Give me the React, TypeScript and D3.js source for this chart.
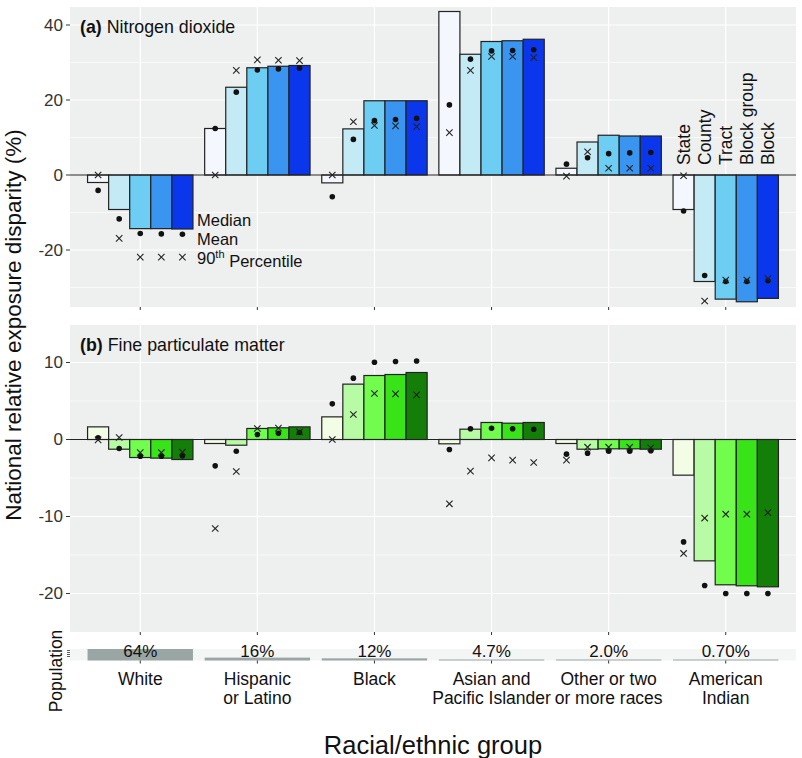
import React from "react";
import * as d3 from "d3";

const categories = ["White", "Hispanic or Latino", "Black", "Asian and Pacific Islander", "Other or two or more races", "American Indian"];
const categoryLines = [["White"], ["Hispanic", "or Latino"], ["Black"], ["Asian and", "Pacific Islander"], ["Other or two", "or more races"], ["American", "Indian"]];
const levels = ["State", "County", "Tract", "Block group", "Block"];
const populationShare = [64, 16, 12, 4.7, 2.0, 0.7];
const populationLabels = ["64%", "16%", "12%", "4.7%", "2.0%", "0.70%"];

// Nitrogen dioxide: bar = median, dot = mean, cross = 90th percentile
const no2Median = [
  [-2.0, -9.2, -14.3, -14.3, -14.4],
  [12.4, 23.4, 28.6, 29.0, 29.2],
  [-2.1, 12.3, 19.8, 19.8, 19.8],
  [43.6, 32.2, 35.6, 35.8, 36.2],
  [1.8, 8.8, 10.6, 10.4, 10.4],
  [-9.2, -28.4, -33.1, -33.8, -32.9],
];
const no2Mean = [
  [-4.1, -11.7, -15.6, -15.7, -15.8],
  [12.4, 22.1, 28.0, 28.3, 28.5],
  [-5.8, 9.5, 14.5, 14.8, 15.1],
  [18.7, 30.9, 33.1, 33.2, 33.4],
  [2.9, 4.6, 5.7, 5.9, 6.0],
  [-9.6, -26.8, -28.4, -28.4, -28.2],
];
const no2P90 = [
  [0.0, -16.9, -21.9, -21.9, -21.9],
  [0.0, 27.9, 30.7, 30.6, 30.5],
  [0.0, 14.2, 13.2, 13.1, 12.9],
  [11.3, 27.9, 31.6, 31.6, 31.3],
  [-0.3, 6.2, 1.8, 1.8, 1.8],
  [-0.2, -33.6, -28.0, -28.0, -27.6],
];

// Fine particulate matter
const pmMedian = [
  [1.64, -1.26, -2.34, -2.42, -2.6],
  [-0.52, -0.74, 1.43, 1.52, 1.64],
  [2.94, 7.19, 8.31, 8.44, 8.7],
  [-0.56, 1.34, 2.21, 2.12, 2.21],
  [-0.52, -1.26, -1.21, -1.21, -1.26],
  [-4.63, -15.76, -18.87, -19.0, -19.13],
];
const pmMean = [
  [0.22, -1.17, -2.16, -2.16, -2.1],
  [-3.42, -1.52, 0.65, 0.82, 0.91],
  [4.63, 7.97, 10.04, 10.13, 10.2],
  [-1.3, 1.39, 1.47, 1.39, 1.34],
  [-1.9, -1.77, -1.52, -1.52, -1.47],
  [-13.3, -18.96, -20.0, -20.0, -20.0],
];
const pmP90 = [
  [-0.05, 0.26, -1.7, -1.7, -1.65],
  [-11.56, -4.16, 1.43, 1.47, 1.0],
  [0.0, 3.25, 5.97, 5.93, 5.8],
  [-8.35, -4.11, -2.38, -2.68, -2.99],
  [-2.68, -1.0, -1.0, -1.0, -1.08],
  [-14.8, -10.2, -9.7, -9.7, -9.5],
];

const blueFill = ["#f4f7fe", "#c4ebf5", "#6dcdf2", "#3a95f0", "#0a37eb"];
const greenFill = ["#f3fde6", "#b8fba5", "#72fc4e", "#38e318", "#137f09"];

const FONT = "'Liberation Sans', Arial, Helvetica, sans-serif";
const W = 802;
const H = 758;
const PL = 70;
const PR = 796;
const BG = "#eeefef";
const TXT = "#333333";
const FS = 17.5;
const LFS = 16.5;

const x = d3.scalePoint<string>().domain(categories).range([PL, PR]).padding(0.6);
const step = x.step();
const inner = d3.scaleBand<string>().domain(levels).range([-0.45 * step, 0.45 * step]).paddingInner(0);

type PanelProps = {
  top: number;
  bottom: number;
  domain: [number, number];
  major: number[];
  minor: number[];
  median: number[][];
  mean: number[][];
  p90: number[][];
  fills: string[];
  title: [string, string];
  children?: React.ReactNode;
};

function Cross({ cx, cy }: { cx: number; cy: number }) {
  const s = 3.2;
  return (
    <g stroke="#222" strokeWidth={1.1}>
      <line x1={cx - s} y1={cy - s} x2={cx + s} y2={cy + s} />
      <line x1={cx - s} y1={cy + s} x2={cx + s} y2={cy - s} />
    </g>
  );
}

function Panel(p: PanelProps) {
  const y = d3.scaleLinear().domain(p.domain).range([p.bottom, p.top]);
  return (
    <g>
      <rect x={PL} y={p.top} width={PR - PL} height={p.bottom - p.top} fill={BG} />
      {p.minor.map((v) => (
        <line key={"mi" + v} x1={PL} x2={PR} y1={y(v)} y2={y(v)} stroke="#fff" strokeWidth={0.6} />
      ))}
      {p.major.map((v) => (
        <line key={"ma" + v} x1={PL} x2={PR} y1={y(v)} y2={y(v)} stroke="#fff" strokeWidth={1.2} />
      ))}
      {categories.map((c) => (
        <line key={"vg" + c} x1={x(c)} x2={x(c)} y1={p.top} y2={p.bottom} stroke="#fff" strokeWidth={1.2} />
      ))}
      {categories.map((c, i) =>
        levels.map((l, j) => {
          const v = p.median[i][j];
          const x0 = (x(c) as number) + (inner(l) as number);
          return (
            <rect
              key={c + l}
              x={x0}
              y={Math.min(y(v), y(0))}
              width={inner.bandwidth()}
              height={Math.abs(y(v) - y(0))}
              fill={p.fills[j]}
              stroke="#222"
              strokeWidth={1.2}
            />
          );
        })
      )}
      <line x1={PL} x2={PR} y1={y(0)} y2={y(0)} stroke="#222" strokeWidth={1.1} />
      {categories.map((c, i) =>
        levels.map((l, j) => {
          const cx = (x(c) as number) + (inner(l) as number) + inner.bandwidth() / 2;
          return (
            <g key={"pt" + c + l}>
              <circle cx={cx} cy={y(p.mean[i][j])} r={2.8} fill="#111" />
              <Cross cx={cx} cy={y(p.p90[i][j])} />
            </g>
          );
        })
      )}
      {p.major.map((v) => (
        <g key={"yt" + v}>
          <line x1={PL - 4} x2={PL} y1={y(v)} y2={y(v)} stroke={TXT} strokeWidth={1} />
          <text x={PL - 7} y={y(v)} dy="0.35em" textAnchor="end" fontSize={17} fill={TXT} fontFamily={FONT}>
            {v < 0 ? "-" + Math.abs(v) : String(v)}
          </text>
        </g>
      ))}
      {categories.map((c) => (
        <line key={"xt" + c} x1={x(c)} x2={x(c)} y1={p.bottom} y2={p.bottom + 3} stroke={TXT} strokeWidth={1} />
      ))}
      <text x={80} y={p.top + 20} dy="0.35em" fontSize={17.8} fontFamily={FONT} fill="#111">
        <tspan fontWeight="bold">{p.title[0]}</tspan>
        <tspan> {p.title[1]}</tspan>
      </text>
      {p.children}
    </g>
  );
}

export default function App() {
  const yTop = d3.scaleLinear().domain([-35.2, 44.8]).range([307, 7]);
  const lastCat = categories[categories.length - 1];
  const stripTop = 649;
  const stripBottom = 660.5;
  const pop = d3.scaleLinear().domain([0, 64]).range([0, stripBottom - stripTop]);

  return (
    <svg width={W} height={H} style={{ position: "absolute", left: 0, top: 0 }} fontFamily={FONT}>
      <rect width={W} height={H} fill="#fff" />
      <Panel
        top={7}
        bottom={307}
        domain={[-35.2, 44.8]}
        major={[-20, 0, 20, 40]}
        minor={[-30, -10, 10, 30]}
        median={no2Median}
        mean={no2Mean}
        p90={no2P90}
        fills={blueFill}
        title={["(a)", "Nitrogen dioxide"]}
      >
        {levels.map((l) => {
          const cx = (x(lastCat) as number) + (inner(l) as number) + inner.bandwidth() / 2;
          const yy = yTop(0) - 10;
          return (
            <text
              key={"lvl" + l}
              transform={`translate(${cx},${yy}) rotate(-90)`}
              dy="0.35em"
              fontSize={FS}
              fill="#111"
            >
              {l}
            </text>
          );
        })}
        <text x={197} y={220.5} dy="0.35em" fontSize={LFS} fill="#111">Median</text>
        <text x={197} y={239.5} dy="0.35em" fontSize={LFS} fill="#111">Mean</text>
        <text x={197} y={258.5} dy="0.35em" fontSize={LFS} fill="#111">
          90<tspan fontSize={11} dy="-0.55em">th</tspan>
          <tspan dy="0.55em"> Percentile</tspan>
        </text>
      </Panel>
      <Panel
        top={325}
        bottom={632}
        domain={[-25.0, 14.87]}
        major={[-20, -10, 0, 10]}
        minor={[-15, -5, 5]}
        median={pmMedian}
        mean={pmMean}
        p90={pmP90}
        fills={greenFill}
        title={["(b)", "Fine particulate matter"]}
      />
      {/* population strip */}
      <rect x={PL} y={stripTop} width={PR - PL} height={stripBottom - stripTop} fill="#f4f5f5" />
      {categories.map((c, i) => {
        const h = Math.max(pop(populationShare[i]), 1);
        return (
          <g key={"pop" + c}>
            <rect
              x={(x(c) as number) - 0.45 * step}
              y={stripBottom - h}
              width={0.9 * step}
              height={h}
              fill="#9aa6a3"
            />
            <text x={x(c)} y={651} dy="0.35em" textAnchor="middle" fontSize={17} fill="#111">
              {populationLabels[i]}
            </text>
            <line x1={x(c)} x2={x(c)} y1={stripBottom} y2={stripBottom + 3} stroke={TXT} strokeWidth={1} />
          </g>
        );
      })}
      {[650.5, 652.5, 654.5, 656.5].map((v) => (
        <line key={"st" + v} x1={PL - 3} x2={PL} y1={v} y2={v} stroke={TXT} strokeWidth={0.8} />
      ))}
      <text transform={`translate(62,671) rotate(-90)`} textAnchor="middle" fontSize={FS} fill="#111">
        Population
      </text>
      {categories.map((c, i) => (
        <text key={"cl" + c} x={x(c)} y={679} textAnchor="middle" fontSize={FS} fill="#111">
          {categoryLines[i].map((ln, k) => (
            <tspan key={k} x={x(c)} dy={k === 0 ? "0.35em" : "1.05em"}>
              {ln}
            </tspan>
          ))}
        </text>
      ))}
      <text x={433} y={745} dy="0.35em" textAnchor="middle" fontSize={25.5} fill="#111">
        Racial/ethnic group
      </text>
      <text transform={`translate(21,325) rotate(-90)`} textAnchor="middle" fontSize={22.5} fill="#111">
        National relative exposure disparity (%)
      </text>
    </svg>
  );
}
